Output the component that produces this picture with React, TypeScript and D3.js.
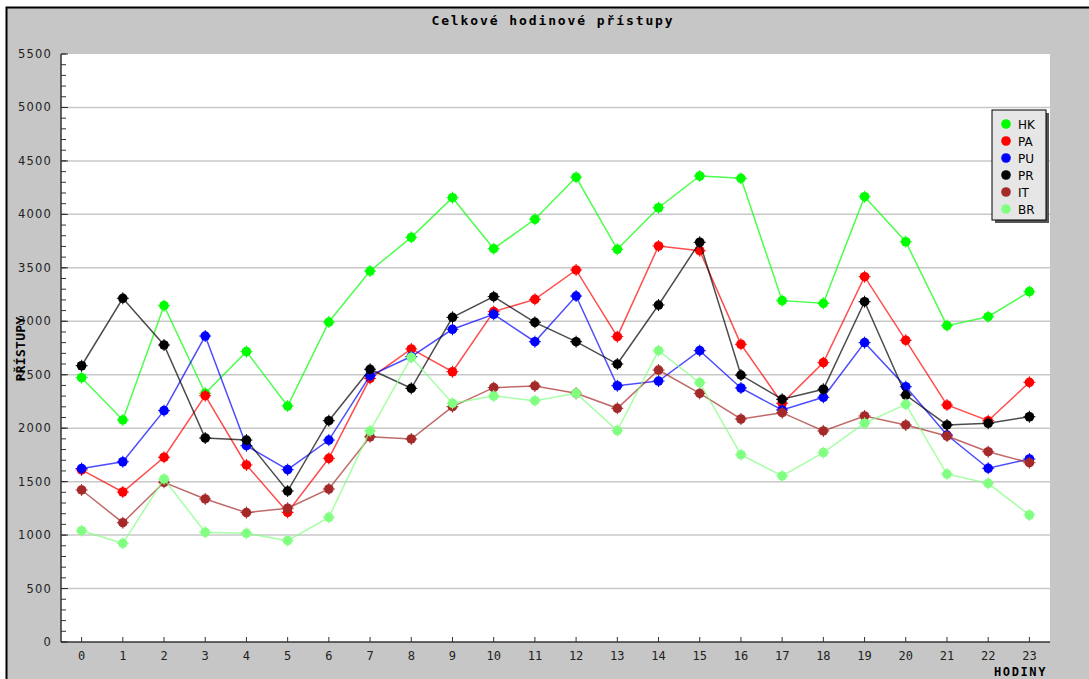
import React from 'react';
import * as d3 from 'd3';

// hodiny 0..23
const hours: number[] = d3.range(24);

const seriesNames: string[] = ['HK', 'PA', 'PU', 'PR', 'IT', 'BR'];
const seriesColors: string[] = ['#00ff00', '#ff0000', '#0000ff', '#000000', '#a52a2a', '#80ff80'];

const hk: number[] = [2472, 2077, 3146, 2326, 2716, 2207, 2993, 3470, 3785, 4156, 3679, 3954, 4347, 3673, 4062, 4359, 4337, 3193, 3168, 4165, 3744, 2959, 3043, 3277];
const pa: number[] = [1610, 1403, 1728, 2304, 1656, 1213, 1718, 2466, 2741, 2528, 3090, 3205, 3480, 2856, 3704, 3660, 2785, 2233, 2613, 3417, 2822, 2217, 2070, 2429];
const pu: number[] = [1622, 1686, 2164, 2862, 1836, 1612, 1889, 2491, 2670, 2925, 3065, 2809, 3236, 2397, 2441, 2725, 2376, 2170, 2289, 2800, 2388, 1936, 1625, 1712];
const pr: number[] = [2584, 3215, 2778, 1908, 1889, 1412, 2070, 2551, 2373, 3037, 3230, 2990, 2809, 2600, 3152, 3739, 2497, 2270, 2364, 3183, 2310, 2030, 2046, 2107];
const it: number[] = [1422, 1116, 1494, 1338, 1210, 1251, 1431, 1920, 1899, 2201, 2379, 2395, 2326, 2186, 2544, 2326, 2086, 2145, 1974, 2114, 2030, 1927, 1780, 1677];
const br: number[] = [1041, 923, 1525, 1026, 1017, 948, 1166, 1974, 2663, 2233, 2301, 2257, 2326, 1977, 2725, 2426, 1752, 1553, 1771, 2046, 2223, 1571, 1484, 1188];

const allSeries: number[][] = [hk, pa, pu, pr, it, br];

const yMajor: number[] = d3.range(0, 5501, 500);
const yMinor: number[] = d3.range(0, 5501, 100);

const W = 1089;
const H = 679;
const plotLeft = 61;
const plotRight = 1050;
const plotTop = 54;
const plotBottom = 642;

const monoFont = '"DejaVu Sans Mono", monospace';
const sansFont = '"DejaVu Sans", sans-serif';

function Marker({x, y, color}: {x: number, y: number, color: string})
{
    return (
        <g>
            <circle cx={x} cy={y} r={4.8} fill={color}/>
            <path d={`M${x - 6},${y}H${x + 6}M${x},${y - 6}V${y + 6}`} stroke={color} strokeWidth={1}/>
        </g>
    );
}

export default function App()
{
    const xScale = d3.scalePoint<number>()
        .domain(hours)
        .range([plotLeft, plotRight])
        .padding(0.5);

    const yScale = d3.scaleLinear()
        .domain([0, 5500])
        .range([plotBottom, plotTop]);

    const line = d3.line<number>()
        .x((d, i) => xScale(hours[i]) as number)
        .y(d => yScale(d));

    const legendX = 992;
    const legendY = 110;
    const legendW = 54;
    const legendH = 110;

    return (
        <svg width={W} height={H} style={{position: 'absolute', left: 0, top: 0}}>
            <rect x={0} y={0} width={W} height={H} fill="#ffffff"/>
            <rect x={6} y={7} width={W} height={H} fill="#c6c6c6"/>
            <path d={`M6.5,${H}V7.5H${W}`} fill="none" stroke="#000" strokeWidth={2}/>

            <text x={553} y={25} textAnchor="middle" fontFamily={monoFont} fontWeight="bold"
                  fontSize={13} letterSpacing={1.9} fill="#000">Celkové hodinové přístupy</text>

            {/* plot area */}
            <rect x={plotLeft} y={plotTop} width={plotRight - plotLeft} height={plotBottom - plotTop} fill="#ffffff"/>

            {yMajor.filter(v => v > 0 && v < 5500).map(v => (
                <line key={'g' + v} x1={plotLeft} x2={plotRight} y1={yScale(v)} y2={yScale(v)}
                      stroke="#c8c8c8" strokeWidth={1.5}/>
            ))}

            {yMinor.map(v => (
                <line key={'m' + v} x1={plotLeft} x2={plotLeft + 5} y1={yScale(v)} y2={yScale(v)}
                      stroke="#333" strokeWidth={1}/>
            ))}
            {yMajor.map(v => (
                <line key={'M' + v} x1={plotLeft} x2={plotLeft + 7} y1={yScale(v)} y2={yScale(v)}
                      stroke="#333" strokeWidth={1}/>
            ))}
            {yMajor.map(v => (
                <text key={'yl' + v} x={52} y={yScale(v) + 4} textAnchor="end" fontFamily={sansFont}
                      fontSize={11.5} letterSpacing={1.2} fill="#222">{v}</text>
            ))}

            {hours.map(h => (
                <line key={'xt' + h} x1={xScale(h)} x2={xScale(h)} y1={plotBottom} y2={plotBottom - 5}
                      stroke="#333" strokeWidth={1}/>
            ))}
            {hours.map(h => (
                <text key={'xl' + h} x={xScale(h)} y={660} textAnchor="middle" fontFamily={monoFont}
                      fontSize={12} fill="#222">{h}</text>
            ))}

            <line x1={plotLeft} x2={plotLeft} y1={plotTop} y2={plotBottom} stroke="#333" strokeWidth={1.5}/>
            <line x1={plotLeft} x2={plotRight} y1={plotBottom} y2={plotBottom} stroke="#333" strokeWidth={1.5}/>

            <text x={1047} y={676} textAnchor="end" fontFamily={monoFont} fontWeight="bold"
                  fontSize={12} letterSpacing={1.6} fill="#000">HODINY</text>
            <text transform="translate(25,349) rotate(-90)" textAnchor="middle" fontFamily={monoFont}
                  fontWeight="bold" fontSize={13} letterSpacing={0.3} fill="#000">PŘÍSTUPY</text>

            {/* series */}
            {allSeries.map((vals, si) => (
                <g key={'s' + si}>
                    <path d={line(vals) as string} fill="none" stroke={seriesColors[si]}
                          strokeWidth={1.5} strokeOpacity={0.7}/>
                    {vals.map((v, i) => (
                        <Marker key={i} x={xScale(hours[i]) as number} y={yScale(v)} color={seriesColors[si]}/>
                    ))}
                </g>
            ))}

            {/* legend */}
            <rect x={legendX + 3} y={legendY + 3} width={legendW} height={legendH} fill="#555"/>
            <rect x={legendX} y={legendY} width={legendW} height={legendH} fill="#e6e6e6" stroke="#000" strokeWidth={1}/>
            {seriesNames.map((name, i) => (
                <g key={'lg' + name}>
                    <circle cx={legendX + 14} cy={legendY + 14 + i * 17} r={4.8} fill={seriesColors[i]}/>
                    <text x={legendX + 26} y={legendY + 18.5 + i * 17} fontFamily={sansFont} fontSize={12}
                          fill="#000">{name}</text>
                </g>
            ))}
        </svg>
    );
}
